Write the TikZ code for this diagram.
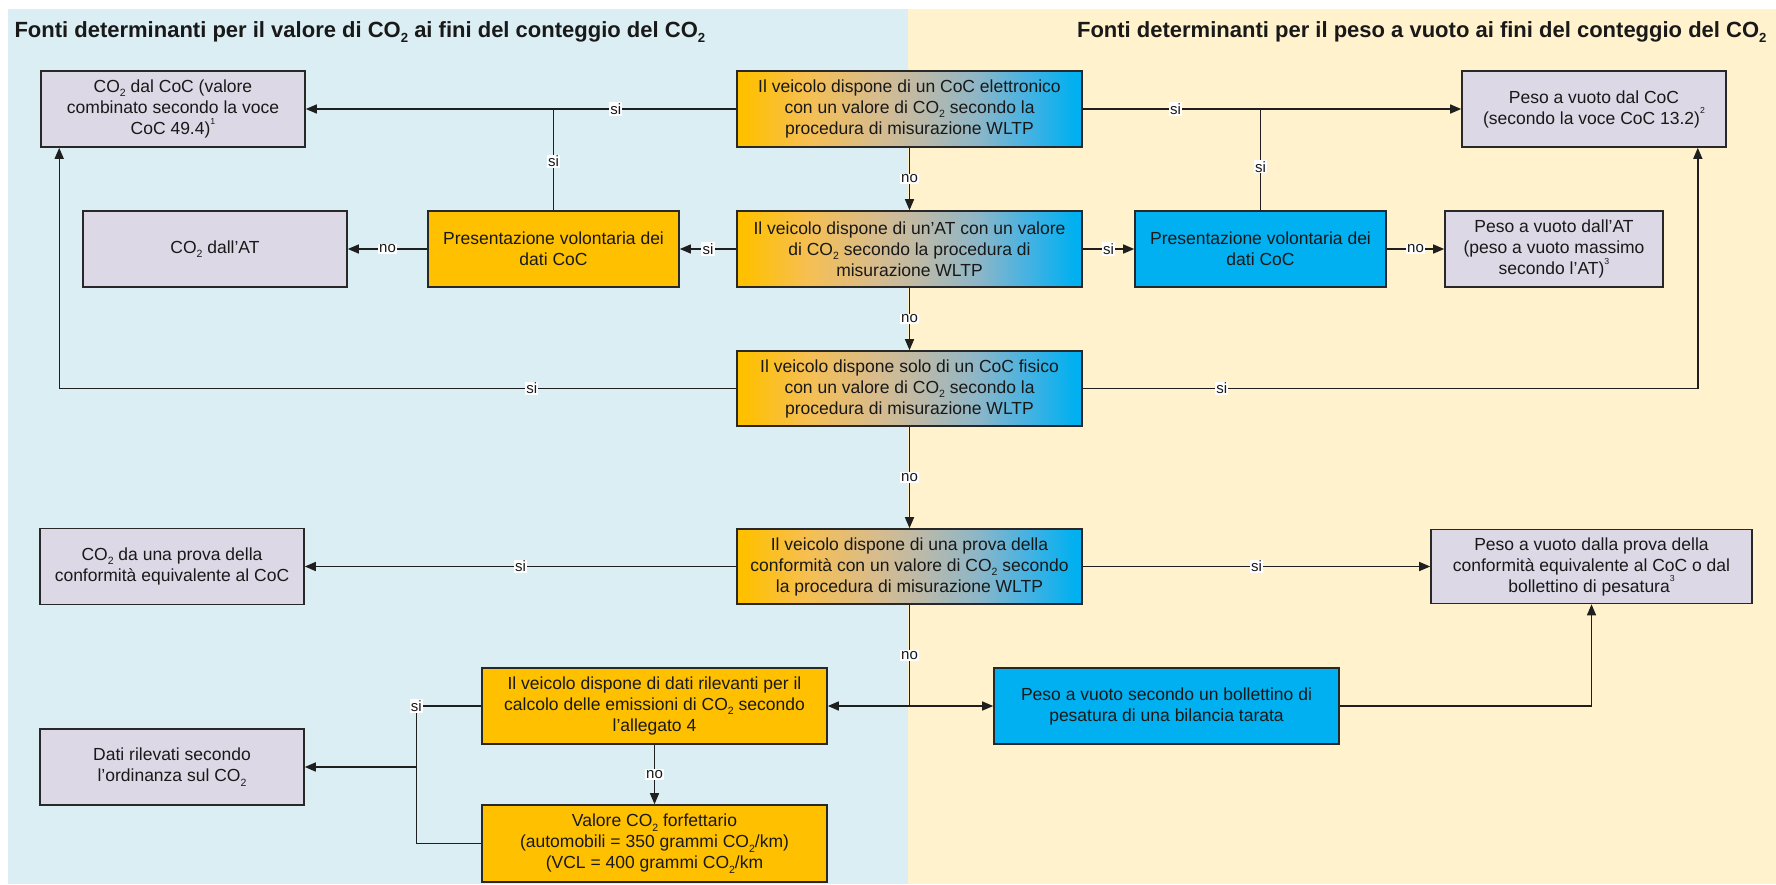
\documentclass[tikz,border=0pt]{standalone}
\usepackage{fontspec}
\usepackage{graphicx}
\setmainfont{Liberation Sans}
\usetikzlibrary{arrows.meta}
\definecolor{bgblue}{RGB}{218,238,243}
\definecolor{bgyel}{RGB}{255,242,204}
\definecolor{org}{RGB}{255,192,0}
\definecolor{blu}{RGB}{0,176,240}
\definecolor{lav}{RGB}{221,216,230}
\definecolor{edgec}{RGB}{40,40,40}
\definecolor{gA}{RGB}{246,191,80}
\definecolor{gB}{RGB}{216,188,140}
\definecolor{gC}{RGB}{186,185,170}
\definecolor{gD}{RGB}{140,182,200}
\definecolor{gE}{RGB}{70,178,226}
\pgfdeclarehorizontalshading{obshade}{100bp}{color(0bp)=(org); color(26bp)=(org); color(35bp)=(gA); color(45bp)=(gB); color(52bp)=(gC); color(60bp)=(gD); color(67bp)=(gE); color(74bp)=(blu); color(100bp)=(blu)}
\newcommand{\COtwo}{CO\raisebox{-0.25em}{\scalebox{0.6}{2}}}
\newcommand{\fnm}[1]{\raisebox{0.6em}{\scalebox{0.5}{#1}}}
\begin{document}
\begin{tikzpicture}[x=1pt,y=-1pt,
  box/.style={draw=edgec, line width=1.6pt, minimum height=76pt, align=center, inner sep=2pt, font=\fontsize{17.5}{21}\selectfont, text=black!90},
  lavbox/.style={box, fill=lav},
  orgbox/.style={box, fill=org},
  blubox/.style={box, fill=blu},
  grbox/.style={box, shade, shading=obshade},
  conn/.style={draw=black!88, line width=1.4pt},
  arr/.style={conn, -{Triangle[length=11pt,width=9pt]}},
  lbl/.style={fill=white, inner sep=1.2pt, font=\fontsize{15}{15}\selectfont, text=black!90},
  ttl/.style={font=\fontsize{22}{24}\selectfont\bfseries, text=black!90}]
\useasboundingbox (0,0) rectangle (1776,884);
\fill[white] (0,0) rectangle (1776,884);
\fill[bgblue] (8,9) rectangle (908,884);
\fill[bgyel] (908,9) rectangle (1776,884);

\node[ttl, anchor=base west] (t1) at (11,37) {Fonti determinanti per il valore di \COtwo\ ai fini del conteggio del \COtwo};
\node[ttl, anchor=base east] (t2) at (1770,37) {Fonti determinanti per il peso a vuoto ai fini del conteggio del \COtwo};

% left column
\node[lavbox, minimum width=264pt] (A1) at (173,109) {\COtwo\ dal CoC (valore\\combinato secondo la voce\\CoC 49.4)\fnm{1}};
\node[lavbox, minimum width=264pt] (A2) at (215,249) {\COtwo\ dall’AT};
\node[orgbox, minimum width=251pt] (P1) at (553.5,249) {Presentazione volontaria dei\\dati CoC};
\node[lavbox, minimum width=264pt] (A4) at (172,566.5) {\COtwo\ da una prova della\\conformità equivalente al CoC};
\node[lavbox, minimum width=264pt] (D) at (172,767) {Dati rilevati secondo\\l’ordinanza sul \COtwo};
\node[orgbox, minimum width=345pt] (E5) at (654.5,706) {Il veicolo dispone di dati rilevanti per il\\calcolo delle emissioni di \COtwo\ secondo\\l’allegato 4};
\node[orgbox, minimum width=345pt, minimum height=77pt] (V) at (654.5,843.5) {Valore \COtwo\ forfettario\\(automobili = 350 grammi \COtwo/km)\\(VCL = 400 grammi \COtwo/km};

% central column
\node[grbox, minimum width=345pt] (E1) at (909.5,109) {Il veicolo dispone di un CoC elettronico\\con un valore di \COtwo\ secondo la\\procedura di misurazione WLTP};
\node[grbox, minimum width=345pt] (E2) at (909.5,249) {Il veicolo dispone di un’AT con un valore\\di \COtwo\ secondo la procedura di\\misurazione WLTP};
\node[grbox, minimum width=345pt, minimum height=75pt] (E3) at (909.5,388.5) {Il veicolo dispone solo di un CoC fisico\\con un valore di \COtwo\ secondo la\\procedura di misurazione WLTP};
\node[grbox, minimum width=345pt, minimum height=75pt] (E4) at (909.5,566.5) {Il veicolo dispone di una prova della\\conformità con un valore di \COtwo\ secondo\\la procedura di misurazione WLTP};

% right column
\node[blubox, minimum width=251pt] (P2) at (1260.5,249) {Presentazione volontaria dei\\dati CoC};
\node[lavbox, minimum width=264pt] (B1) at (1594,109) {Peso a vuoto dal CoC\\(secondo la voce CoC 13.2)\fnm{2}};
\node[lavbox, minimum width=218pt] (B2) at (1554,249) {Peso a vuoto dall’AT\\(peso a vuoto massimo\\secondo l’AT)\fnm{3}};
\node[lavbox, minimum width=321pt, minimum height=74pt] (B4) at (1591.5,566.5) {Peso a vuoto dalla prova della\\conformità equivalente al CoC o dal\\bollettino di pesatura\fnm{3}};
\node[blubox, minimum width=345pt] (W) at (1166.5,706) {Peso a vuoto secondo un bollettino di\\pesatura di una bilancia tarata};

% connectors
\draw[arr] (E1.west) -- (A1.east) node[lbl, pos=0.28] {si};
\draw[conn] (P1.north) -- (P1.north |- E1.west) node[lbl, pos=0.48] {si};
\draw[arr] (E1.south) -- (E2.north) node[lbl, midway] {no};
\draw[arr] (E2.west) -- (P1.east) node[lbl, midway] {si};
\draw[arr] (P1.west) -- (A2.east) node[lbl, midway] {no};
\draw[arr] (E1.east) -- (B1.west) node[lbl, pos=0.245] {si};
\draw[conn] (P2.north) -- (P2.north |- E1.east) node[lbl, pos=0.43] {si};
\draw[arr] (E2.east) -- (P2.west) node[lbl, midway] {si};
\draw[arr] (P2.east) -- (B2.west) node[lbl, midway] {no};
\draw[arr] (E2.south) -- (E3.north) node[lbl, midway] {no};
\draw[arr] (E3.west) -| ([xshift=19pt]A1.south west) node[lbl, pos=0.151] {si};
\draw[arr] (E3.east) -| ([xshift=-29pt]B1.south east) node[lbl, pos=0.113] {si};
\draw[arr] (E3.south) -- (E4.north) node[lbl, midway] {no};
\draw[arr] (E4.west) -- (A4.east) node[lbl, midway] {si};
\draw[arr] (E4.east) -- (B4.west) node[lbl, midway] {si};
\coordinate (j2) at (E4.south |- W.west);
\draw[conn] (E4.south) -- (j2) node[lbl, midway] {no};
\draw[arr] (j2) -- (E5.east);
\draw[arr] (j2) -- (W.west);
\draw[arr] (W.east) -| (B4.south);
\coordinate (j3) at ([xshift=-65pt]E5.west);
\draw[conn] (E5.west) -- (j3) |- (V.west);
\draw[arr] (j3 |- D.east) -- (D.east);
\node[lbl] (s5) at (j3) {si};
\draw[arr] (E5.south) -- (V.north) node[lbl, midway] {no};
\end{tikzpicture}
\end{document}
